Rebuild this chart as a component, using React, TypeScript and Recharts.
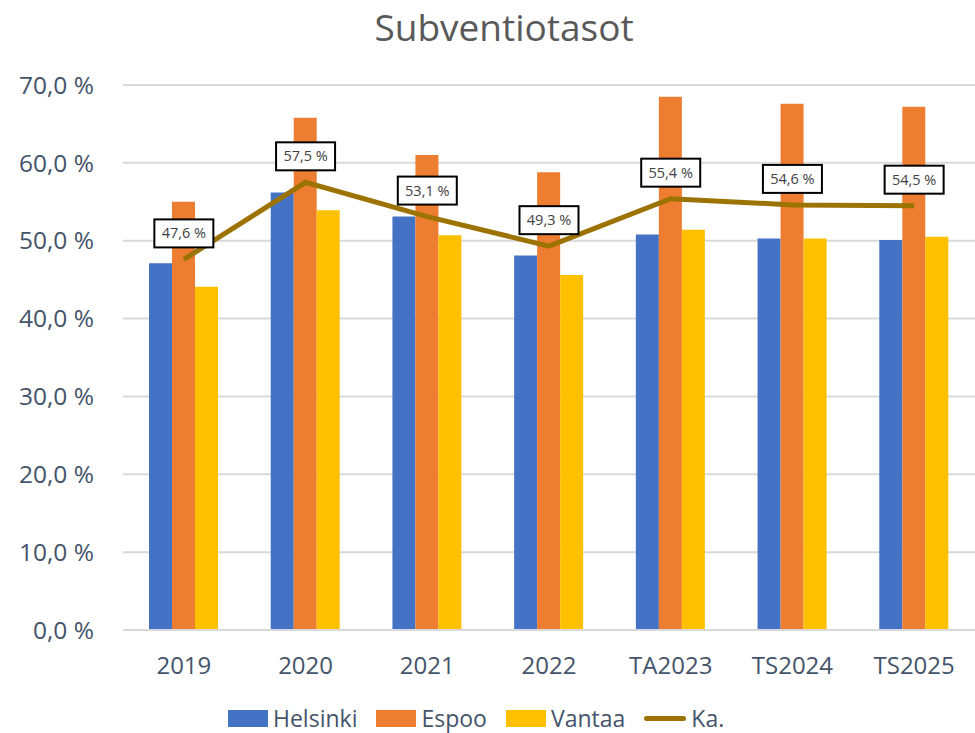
import { ComposedChart, Bar, Line, XAxis, YAxis, CartesianGrid, Legend } from "recharts"

const years = ["2019", "2020", "2021", "2022", "TA2023", "TS2024", "TS2025"]
const helsinki = [47.1, 56.2, 53.1, 48.1, 50.8, 50.3, 50.1]
const espoo = [55.0, 65.8, 61.0, 58.8, 68.5, 67.6, 67.2]
const vantaa = [44.1, 53.9, 50.7, 45.6, 51.4, 50.3, 50.5]
const average = [47.6, 57.5, 53.1, 49.3, 55.4, 54.6, 54.5]
const yTicks = [0, 10, 20, 30, 40, 50, 60, 70]

const data = years.map((y, i) => ({ year: y, helsinki: helsinki[i], espoo: espoo[i], vantaa: vantaa[i], ka: average[i] }))

const font = "'Open Sans', 'Noto Sans', sans-serif"
const axisText = "#44546A"
const pct = (v: number) => v.toFixed(1).replace(".", ",") + " %"

const legendItems = [
  { name: "Helsinki", color: "#4472C4", type: "rect" },
  { name: "Espoo", color: "#ED7D31", type: "rect" },
  { name: "Vantaa", color: "#FFC000", type: "rect" },
  { name: "Ka.", color: "#9C7300", type: "line" },
]

function KaLabel(props: any) {
  const { x, y, value } = props
  if (x == null || y == null) return null
  const w = 59, h = 28
  return (
    <g>
      <rect x={x - w / 2} y={y - 12 - h} width={w} height={h} fill="#fff" stroke="#000" strokeWidth={2} />
      <text x={x} y={y - 12 - h / 2 + 5} textAnchor="middle" fontSize={14.5} fill="#404040" fontFamily={font}>{pct(value)}</text>
    </g>
  )
}

function LegendContent() {
  return (
    <div style={{ display: "flex", alignItems: "center", height: 24, paddingLeft: 228, paddingTop: 11, fontFamily: font, fontSize: 23, lineHeight: "24px", color: axisText }}>
      {legendItems.map((it) => (
        <div key={it.name} style={{ display: "flex", alignItems: "center", marginRight: 19 }}>
          {it.type === "rect"
            ? <span style={{ display: "inline-block", width: 40, height: 17, background: it.color }} />
            : <span style={{ display: "inline-block", width: 42, height: 5, borderRadius: 3, background: it.color }} />}
          <span style={{ marginLeft: 5 }}>{it.name}</span>
        </div>
      ))}
    </div>
  )
}

export default function App() {
  return (
    <div style={{ position: "absolute", left: 0, top: 0, width: 975, height: 733, background: "#fff" }}>
      <div style={{ position: "absolute", left: 0, width: 1008, top: 1, textAlign: "center", fontFamily: font, fontSize: 37, color: "#595959" }}>
        Subventiotasot
      </div>
      <ComposedChart width={975} height={733} data={data} margin={{ top: 85, right: 0, bottom: 0, left: 0 }} barGap={0} barSize={23}>
        <CartesianGrid vertical={false} stroke="#D9D9D9" strokeWidth={2} />
        <XAxis dataKey="year" height={65} tickLine={false} axisLine={{ stroke: "#D9D9D9", strokeWidth: 2 }} tick={{ fontSize: 24, fill: axisText, fontFamily: font }} tickMargin={21} />
        <YAxis width={123} domain={[0, 70]} ticks={yTicks} tickFormatter={pct} axisLine={false} tickLine={false} tick={{ fontSize: 24.5, fill: axisText, fontFamily: font }} tickMargin={23} />
        <Legend verticalAlign="bottom" content={<LegendContent />} wrapperStyle={{ height: 38 }} />
        <Bar dataKey="helsinki" name="Helsinki" fill="#4472C4" isAnimationActive={false} />
        <Bar dataKey="espoo" name="Espoo" fill="#ED7D31" isAnimationActive={false} />
        <Bar dataKey="vantaa" name="Vantaa" fill="#FFC000" isAnimationActive={false} />
        <Line dataKey="ka" name="Ka." stroke="#9C7300" strokeWidth={5} dot={false} isAnimationActive={false} label={<KaLabel />} />
      </ComposedChart>
    </div>
  )
}
